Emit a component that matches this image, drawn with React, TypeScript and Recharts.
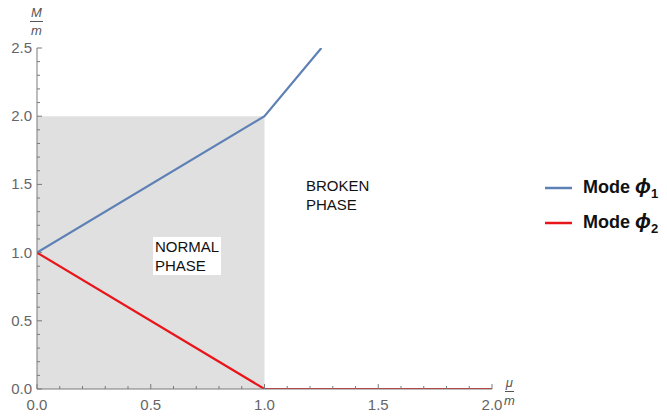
import React from "react";
import {
  ComposedChart,
  Line,
  XAxis,
  YAxis,
  ReferenceArea,
  Legend,
} from "recharts";

// mu/m on x, M/m on y
const xMajorTicks = [0, 0.5, 1, 1.5, 2];
const yMajorTicks = [0, 0.5, 1, 1.5, 2, 2.5];

const phi1Mu = [0, 1, 1.25];
const phi1M = [1, 2, 2.5];
const phi2Mu = [0, 1, 2];
const phi2M = [1, 0, 0];

const normalMu = [0, 1];
const normalM = [0, 2];

const seriesNames = ["Mode ϕ", "Mode ϕ"];
const seriesSubs = ["1", "2"];

const BLUE = "#5E81B5";
const RED = "#E8161B";
const AXIS = "#7a7a7a";
const LABEL = "#666";
const FONT = "'Liberation Sans', Arial, sans-serif";

const withMinor = (major: number[]) => {
  const out: number[] = [];
  for (let i = 0; i < major.length; i++) {
    out.push(major[i]);
    if (i < major.length - 1) {
      const step = (major[i + 1] - major[i]) / 5;
      for (let k = 1; k < 5; k++) out.push(+(major[i] + step * k).toFixed(3));
    }
  }
  return out;
};

const isMajor = (v: number, major: number[]) =>
  major.some((m) => Math.abs(m - v) < 1e-6);

const toPoints = (xs: number[], ys: number[]) =>
  xs.map((x, i) => ({ x, y: ys[i] }));

const XTick = (props: any) => {
  const { x, y, payload } = props;
  const major = isMajor(payload.value, xMajorTicks);
  return (
    <g>
      <line x1={x} x2={x} y1={y} y2={y - (major ? 5 : 3)} stroke={AXIS} />
      {major && (
        <text
          x={x}
          y={y + 21}
          textAnchor="middle"
          fontSize={15}
          fontFamily={FONT}
          fill={LABEL}
        >
          {payload.value.toFixed(1)}
        </text>
      )}
    </g>
  );
};

const YTick = (props: any) => {
  const { x, y, payload } = props;
  const major = isMajor(payload.value, yMajorTicks);
  return (
    <g>
      <line x1={x} x2={x + (major ? 5 : 3)} y1={y} y2={y} stroke={AXIS} />
      {major && (
        <text
          x={x - 5}
          y={y + 5}
          textAnchor="end"
          fontSize={15}
          fontFamily={FONT}
          fill={LABEL}
        >
          {payload.value.toFixed(1)}
        </text>
      )}
    </g>
  );
};

const LegendContent = () => (
  <div style={{ fontFamily: FONT }}>
    {[BLUE, RED].map((c, i) => (
      <div
        key={i}
        style={{ display: "flex", alignItems: "center", height: 35 }}
      >
        <svg width={38} height={10}>
          <line x1={0} x2={27} y1={5} y2={5} stroke={c} strokeWidth={2.5} />
        </svg>
        <span style={{ fontSize: 18, fontWeight: "bold", color: "#111" }}>
          {seriesNames[i].slice(0, 5)}
          <i style={{ fontSize: 21 }}>{seriesNames[i].slice(5)}</i>
          <sub style={{ fontSize: 13 }}>{seriesSubs[i]}</sub>
        </span>
      </div>
    ))}
  </div>
);

const Frac = ({ top, bottom }: { top: string; bottom: string }) => (
  <div
    style={{
      display: "inline-flex",
      flexDirection: "column",
      alignItems: "center",
      fontFamily: FONT,
      fontStyle: "italic",
      fontSize: 13,
      color: "#555",
      lineHeight: "12px",
    }}
  >
    <span style={{ borderBottom: "1px solid #555", padding: "0 1px 2px" }}>
      {top}
    </span>
    <span style={{ paddingTop: 3 }}>{bottom}</span>
  </div>
);

const phaseText: React.CSSProperties = {
  position: "absolute",
  fontFamily: FONT,
  fontSize: 15,
  lineHeight: "19px",
  color: "#111",
};

export default function App() {
  return (
    <div style={{ position: "relative", width: 667, height: 417 }}>
      <style>{"body{margin:0}"}</style>
      <ComposedChart
        width={667}
        height={417}
        margin={{ top: 48, right: 175, bottom: 27, left: 36 }}
      >
        <XAxis
          type="number"
          dataKey="x"
          domain={[0, 2]}
          ticks={withMinor(xMajorTicks)}
          interval={0}
          height={1}
          tickSize={0}
          tickMargin={0}
          tickLine={false}
          tick={<XTick />}
          stroke={AXIS}
          allowDataOverflow
        />
        <YAxis
          type="number"
          domain={[0, 2.5]}
          ticks={withMinor(yMajorTicks)}
          interval={0}
          width={1}
          tickSize={0}
          tickMargin={0}
          tickLine={false}
          tick={<YTick />}
          stroke={AXIS}
          allowDataOverflow
        />
        <ReferenceArea
          x1={normalMu[0]}
          x2={normalMu[1]}
          y1={normalM[0]}
          y2={normalM[1]}
          fill="#e0e0e0"
          fillOpacity={1}
          stroke="none"
        />
        <Line
          data={toPoints(phi1Mu, phi1M)}
          dataKey="y"
          stroke={BLUE}
          strokeWidth={2.2}
          dot={false}
          isAnimationActive={false}
        />
        <Line
          data={toPoints(phi2Mu, phi2M)}
          dataKey="y"
          stroke={RED}
          strokeWidth={2.2}
          dot={false}
          isAnimationActive={false}
        />
        <Legend
          layout="vertical"
          align="center"
          verticalAlign="middle"
          content={<LegendContent />}
          wrapperStyle={{ left: 545, top: 170, width: 122, height: 70 }}
        />
      </ComposedChart>

      <div style={{ position: "absolute", left: 30, top: 3 }}>
        <Frac top="M" bottom="m" />
      </div>
      <div style={{ position: "absolute", left: 504, top: 373 }}>
        <Frac top="μ" bottom="m" />
      </div>

      <div
        style={{
          ...phaseText,
          left: 153,
          top: 237,
          padding: "0 2px",
          background: "#fff",
        }}
      >
        NORMAL
        <br />
        PHASE
      </div>
      <div style={{ ...phaseText, left: 306, top: 176 }}>
        BROKEN
        <br />
        PHASE
      </div>
    </div>
  );
}
